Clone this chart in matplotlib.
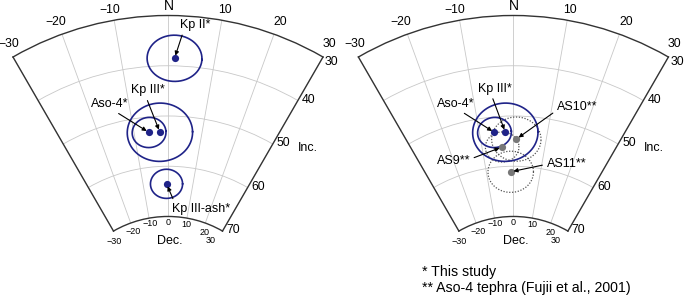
import numpy as np
import matplotlib.pyplot as plt

plt.rcParams['font.family'] = ['Liberation Sans', 'DejaVu Sans']

# paleomagnetic directions, this study
study_names = ['Kp II*', 'Aso-4*', 'Kp III*', 'Kp III-ash*']
study_dec = [1.4, -5.6, -2.4, -0.6]
study_inc = [38.5, 53.1, 53.2, 63.5]
study_a95 = [4.6, 3.0, 5.8, 2.9]

# Aso-4 tephra, Fujii et al. (2001)
fujii_names = ['AS9**', 'AS10**', 'AS11**']
fujii_dec = [-3.6, 0.9, -1.0]
fujii_inc = [56.1, 54.6, 61.1]
fujii_a95 = [3.0, 4.4, 4.1]

dec_ticks = [-30, -20, -10, 0, 10, 20, 30]
outer_labels = ['\u221230', '\u221220', '\u221210', 'N', '10', '20', '30']
inner_labels = ['\u221230', '\u221220', '\u221210', '0', '10', '20', '30']
inc_ticks = [30, 40, 50, 60, 70]

BLUE = '#1f2388'
GRAY = '#777777'
W, H = 685, 297

fig = plt.figure(figsize=(W / 100, H / 100), dpi=100)


def small_circle(dec, inc, a95, n=241):
    d, i, a = np.radians([dec, inc, a95])
    c = np.array([np.cos(i) * np.cos(d), np.cos(i) * np.sin(d), np.sin(i)])
    u = np.array([-np.sin(d), np.cos(d), 0.0])
    v = np.cross(c, u)
    t = np.linspace(0, 2 * np.pi, n)
    p = np.cos(a) * c[:, None] + np.sin(a) * (np.cos(t) * u[:, None] + np.sin(t) * v[:, None])
    return np.arctan2(p[1], p[0]), 90 - np.degrees(np.arcsin(p[2]))


def rr(inc):
    return 90 - np.asarray(inc, dtype=float)


def make_panel(cx):
    side = 310
    ax = fig.add_axes([0, 0, side / W, side / H], projection='polar')
    ax.set_theta_zero_location('N')
    ax.set_theta_direction(-1)
    ax.set_thetamin(-30)
    ax.set_thetamax(30)
    ax.set_rlim(20, 60)
    ax.set_rorigin(-1.7)
    # move the fan so that the top of the outer arc sits where it should
    x0, y0 = ax.transData.transform((0, 60))
    pos = ax.get_position()
    ax.set_position([pos.x0 + (cx - x0) / W, pos.y0 + (H - 15.5 - y0) / H,
                     pos.width, pos.height])

    ax.set_thetagrids(dec_ticks, labels=[''] * len(dec_ticks))
    ax.set_rgrids(rr(inc_ticks[1:-1]), labels=[''] * 3)
    ax.grid(color='#c8c8c8', lw=0.6)
    ax.tick_params(axis='x', length=2.5, width=0.7, color='#333333', direction='in')
    ax.tick_params(axis='y', length=0)
    for sp in ax.spines.values():
        sp.set_color('#333333')
        sp.set_linewidth(1.0)

    # outer arc labels (declination / N)
    outer_off = [(-4, 13), (-6.5, 11.7), (-4.7, 10), (0.8, 9.5), (3.2, 10), (6.5, 11.7), (6.5, 13)]
    for t, lab, (dx, dy) in zip(dec_ticks, outer_labels, outer_off):
        ax.annotate(lab, xy=(np.radians(t), 60), xytext=(dx, dy), textcoords='offset pixels',
                    ha='center', va='center', fontsize=10 if lab == 'N' else 8.8)
    # inner arc labels
    inner_off = [(0.7, -10.6), (2.3, -8.7), (0.9, -5.5), (0.2, -6.5), (-0.2, -6.1), (-0.6, -9.1), (-12, -9.2)]
    for t, lab, (dx, dy) in zip(dec_ticks, inner_labels, inner_off):
        ax.annotate(lab, xy=(np.radians(t), 20), xytext=(dx, dy), textcoords='offset pixels',
                    ha='center', va='center', fontsize=6.5)
    # inclination labels on the right edge
    for inc in inc_ticks:
        off = (2, -5) if inc == 30 else (4, 1)
        ax.annotate(str(inc), xy=(np.radians(30), rr(inc)), xytext=off, textcoords='offset pixels',
                    ha='left', va='center', fontsize=8.8)
    fig.text(cx + 130, H - 148, 'Inc.', ha='left', va='center', fontsize=9,
             transform=None)
    fig.text(cx + 2, H - 241, 'Dec.', ha='center', va='center', fontsize=9,
             transform=None)
    return ax


def plot_dirs(ax, dec, inc, a95, color, ls):
    for d, i, a in zip(dec, inc, a95):
        th, r = small_circle(d, i, a)
        if ls == '-':
            ax.plot(th, r, color=color, lw=1.2, zorder=3)
        else:
            ax.plot(th, r, color='#555555', lw=0.9, ls=(0, (1, 1.3)), zorder=3)
    ax.plot(np.radians(dec), rr(inc), 'o', ms=5.2, color=color, mec='none', zorder=4)


def label(ax, cx, name, dec, inc, pos, relpos):
    ax.annotate(name, xy=(np.radians(dec), rr(inc)), xycoords='data',
                xytext=(cx + pos[0], H - pos[1]), textcoords='figure pixels',
                ha='center', va='center', fontsize=9, zorder=5,
                arrowprops=dict(arrowstyle='-|>', color='black', lw=0.8,
                                mutation_scale=6, shrinkA=1, shrinkB=2,
                                relpos=relpos))


# left panel: this study
cx1 = 168
ax1 = make_panel(cx1)
plot_dirs(ax1, study_dec, study_inc, study_a95, BLUE, '-')
left_pos = [(27, 25), (-58, 104), (-20.5, 90.5), (32.8, 208.7)]
left_rel = [(0.12, 0), (0.58, 0), (0.45, 0), (0.05, 1)]
for k in range(4):
    label(ax1, cx1, study_names[k], study_dec[k], study_inc[k], left_pos[k], left_rel[k])

# right panel: Aso-4 and Kp III with Fujii et al. (2001)
cx2 = 513.4
ax2 = make_panel(cx2)
plot_dirs(ax2, fujii_dec, fujii_inc, fujii_a95, GRAY, ':')
plot_dirs(ax2, study_dec[1:3], study_inc[1:3], study_a95[1:3], BLUE, '-')
label(ax2, cx2, study_names[1], study_dec[1], study_inc[1], (-57.6, 103.8), (0.58, 0))
label(ax2, cx2, study_names[2], study_dec[2], study_inc[2], (-18.7, 88.7), (0.4, 0))
right_pos = [(-60.1, 161), (63.6, 106.7), (52.9, 164.3)]
right_rel = [(1.0, 0.65), (0.0, 0.2), (0.0, 0.5)]
for k in range(3):
    label(ax2, cx2, fujii_names[k], fujii_dec[k], fujii_inc[k], right_pos[k], right_rel[k])

fig.text(421.7, H - 271.7, '* This study', ha='left', va='center', fontsize=10.2, transform=None)
fig.text(421.7, H - 287.7, '** Aso-4 tephra (Fujii et al., 2001)', ha='left', va='center',
         fontsize=10.2, transform=None)

fig.savefig('out.png', dpi=100)
